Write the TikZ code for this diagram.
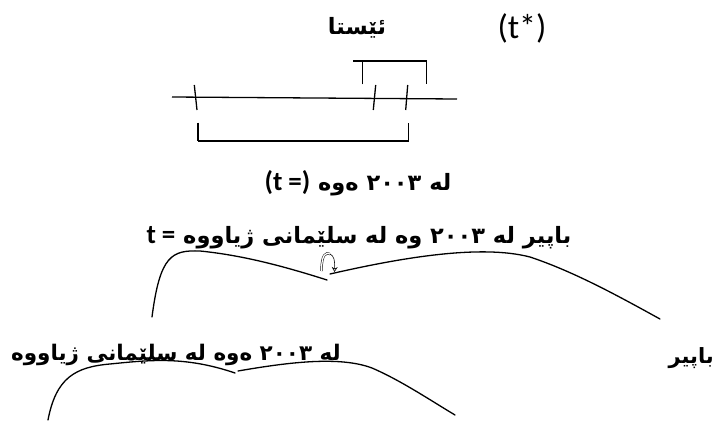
\documentclass[tikz,border=0pt]{standalone}
\usepackage{fontspec}
\usetikzlibrary{arrows.meta}
\TeXXeTstate=1
\newfontfamily\arabicfont[Script=Arabic]{DejaVu Sans}
\newfontfamily\latinfont{Carlito}
\begin{document}
\begin{tikzpicture}[x=1pt,y=-1pt]
\tikzset{
  artext/.style={font=\arabicfont\bfseries\fontsize{22.5}{26}\selectfont, inner sep=0pt, anchor=center},
  lattext/.style={font=\latinfont\fontsize{34}{38}\selectfont, inner sep=0pt, anchor=center},
  tline/.style={line width=1.3pt},
  branch/.style={line width=1.3pt, line cap=round}
}
\newcommand\latpart[1]{{\latinfont\bfseries\fontsize{27}{30}\selectfont #1}}
\useasboundingbox[fill=white] (0,0) rectangle (716,423);
% top labels
\node[artext] (now) at (357,28) {\beginR ئێستا\endR};
\node[lattext] (tstar) at (522,28) {(t*)};
% timeline
\coordinate (tlA) at (172,97);
\coordinate (tlB) at (457,99);
\draw[tline] (tlA) -- (tlB);
\draw[tline] (194.3,85) -- (197,110);
\draw[tline] (375.7,85) -- (373.3,110);
\draw[tline] (407.7,85) -- (405.7,110);
% upper bracket
\draw[tline] (362.7,84.3) -- (362.7,61) (353.3,61) -- (427.3,61) (426.7,61) -- (426.7,84.3);
% lower bracket
\draw[line width=2.4pt] (197.7,122.7) -- (197.7,141);
\draw[tline] (197.7,141) -- (408.3,141) -- (408.3,122.7);
% text lines
\node[artext] (l1) at (358,183) {\beginR له \beginL۲۰۰۳\endL{} ەوە \beginL\latpart{(t =)}\endL\endR};
\node[artext] (l2) at (359,238) {\beginR باپیر له \beginL۲۰۰۳\endL{} وه له سلێمانی ژیاووه \beginL\latpart{t =}\endL\endR};
\node[artext, font=\arabicfont\bfseries\fontsize{21.5}{25}\selectfont] (l3) at (176,355) {\beginR له \beginL۲۰۰۳\endL{} ەوە له سلێمانی ژیاووه\endR};
\node[artext, anchor=east, font=\arabicfont\bfseries\fontsize{21}{25}\selectfont] (bp) at (714,358) {\beginR باپیر\endR};
% upper branching
\coordinate (ua) at (152,317);
\coordinate (utip) at (327,280);
\coordinate (ub) at (330,274);
\coordinate (uc) at (660,319);
\draw[branch] (ua) .. controls (160,255) and (172,250) .. (200,251) .. controls (240,255) and (280,265) .. (utip);
\draw[branch] (ub) .. controls (400,258) and (480,244) .. (530,257) .. controls (575,272) and (620,297) .. (uc);
% curved arrow symbol
\draw[line width=0.5pt, double, double distance=1.3pt] (321.5,271) .. controls (321.5,254) and (326,252) .. (330,254);
\draw[line width=0.6pt, -{Stealth[open,length=5pt,width=6pt]}] (330,254) .. controls (334,256) and (335,260) .. (334.5,272);
% lower branching
\coordinate (la) at (48,420);
\coordinate (ltip) at (235,373);
\coordinate (lb) at (238,371);
\coordinate (lc) at (455,415);
\draw[branch] (la) .. controls (56,378) and (75,367) .. (110,364) .. controls (150,360) and (185,356) .. (ltip);
\draw[branch] (lb) .. controls (290,362) and (340,356) .. (372,368) .. controls (400,380) and (430,400) .. (lc);
\end{tikzpicture}
\end{document}
